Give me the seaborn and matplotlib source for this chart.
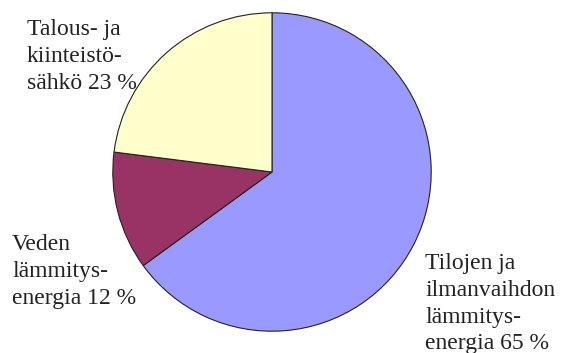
import matplotlib
matplotlib.use('Agg')
import matplotlib.pyplot as plt
import seaborn as sns

labels = ['Tilojen ja\nilmanvaihdon\nlämmitys-\nenergia 65 %',
          'Veden\nlämmitys-\nenergia 12 %',
          'Talous- ja\nkiinteistö-\nsähkö 23 %']
shares = [65, 12, 23]
colors = ['#9999FF', '#993366', '#FFFFCC']

sns.set_style('white')
plt.rcParams['font.family'] = 'Liberation Serif'

fig = plt.figure(figsize=(5.62, 3.53), dpi=100)
ax = fig.add_axes([112 / 562, 21 / 353, 320 / 562, 320 / 353])
ax.pie(shares, colors=colors, startangle=90, counterclock=False,
       wedgeprops={'edgecolor': '#222222', 'linewidth': 0.8})
ax.set_aspect('equal')
ax.set_xlim(-1.005, 1.005)
ax.set_ylim(-1.005, 1.005)
ax.axis('off')

# label positions (figure pixels from top-left)
pos = [(425, 253), (12, 234), (27, 19)]
for lab, (x, y) in zip(labels, pos):
    fig.text(x / 562, 1 - y / 353, lab, ha='left', va='top',
             family='Liberation Serif',
             fontsize=17, linespacing=1.36, color='#222222')

fig.savefig('out.png', dpi=100)
